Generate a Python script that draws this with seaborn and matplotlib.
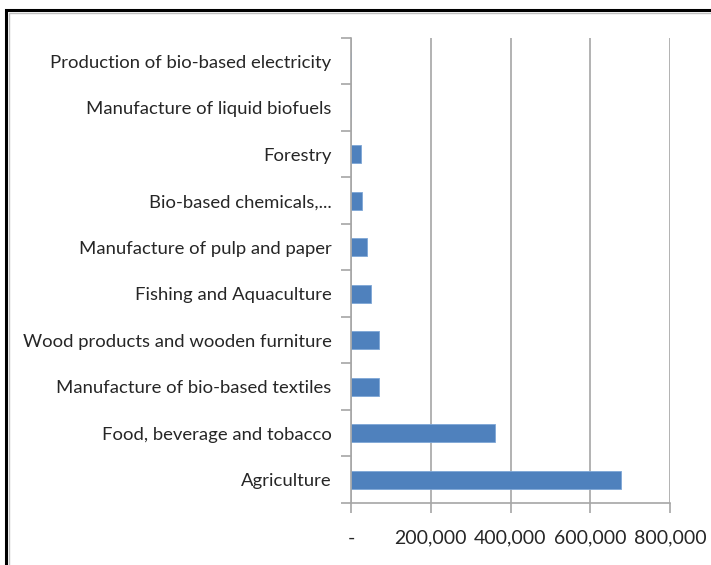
import matplotlib
matplotlib.use("Agg")
import matplotlib.pyplot as plt
import matplotlib.patches as mpatches
from matplotlib.ticker import FixedLocator, FuncFormatter
import seaborn as sns
import pandas as pd

sectors = [
    "Production of bio-based electricity",
    "Manufacture of liquid biofuels",
    "Forestry",
    "Bio-based chemicals,...",
    "Manufacture of pulp and paper",
    "Fishing and Aquaculture",
    "Wood products and wooden furniture",
    "Manufacture of bio-based textiles",
    "Food, beverage and tobacco",
    "Agriculture",
]
employment = [0, 0, 24000, 27000, 41000, 51000, 70000, 70000, 362000, 678000]
x_ticks = [0, 200000, 400000, 600000, 800000]

df = pd.DataFrame({"sector": sectors, "value": employment})

sns.set_theme(style="white")
plt.rcParams["font.family"] = ["Lato", "DejaVu Sans"]

fig = plt.figure(figsize=(7.11, 5.65), dpi=100)
ax = fig.add_axes([351 / 711, 1 - 503 / 565, (670 - 351) / 711, (503 - 38) / 565])

sns.barplot(data=df, x="value", y="sector", order=sectors, color="#4F81BD",
            width=0.39, edgecolor="#7EA6D6", linewidth=0.6, saturation=1, ax=ax)

ax.set_xlim(0, 800000)
ax.set_ylim(len(sectors) - 0.5, -0.5)
ax.set_xlabel("")
ax.set_ylabel("")

grid_c = "#A6A6A6"
ax.xaxis.set_major_locator(FixedLocator(x_ticks))
ax.xaxis.set_major_formatter(FuncFormatter(lambda v, p: "-" if v == 0 else f"{int(v):,}"))
ax.grid(axis="x", color=grid_c, linewidth=1.2)
ax.set_axisbelow(True)

for side in ["top", "right"]:
    ax.spines[side].set_visible(False)
for side in ["left", "bottom"]:
    ax.spines[side].set_color(grid_c)
    ax.spines[side].set_linewidth(1.2)

ax.tick_params(axis="x", which="major", direction="out", length=7, width=1.2,
               color=grid_c, pad=12, labelsize=14, labelcolor="#262626", bottom=True)
ax.tick_params(axis="y", which="major", length=0, pad=14, labelsize=13.3, labelcolor="#262626")
ax.yaxis.set_minor_locator(FixedLocator([i - 0.5 for i in range(len(sectors) + 1)]))
ax.tick_params(axis="y", which="minor", direction="out", length=7, width=1.2,
               color=grid_c, left=True)

# outer frame
fig.patches.append(mpatches.Rectangle((6 / 711, -0.2), 1.2, 0.2 + 1 - 10 / 565,
                                      transform=fig.transFigure, fill=False,
                                      edgecolor="black", linewidth=2.2, clip_on=False))
fig.patches.append(mpatches.Rectangle((8.5 / 711, -0.2), 1.2, 0.2 + 1 - 12.5 / 565,
                                      transform=fig.transFigure, fill=False,
                                      edgecolor="#BFBFBF", linewidth=1.0, clip_on=False))

fig.savefig("out.png", dpi=100)
